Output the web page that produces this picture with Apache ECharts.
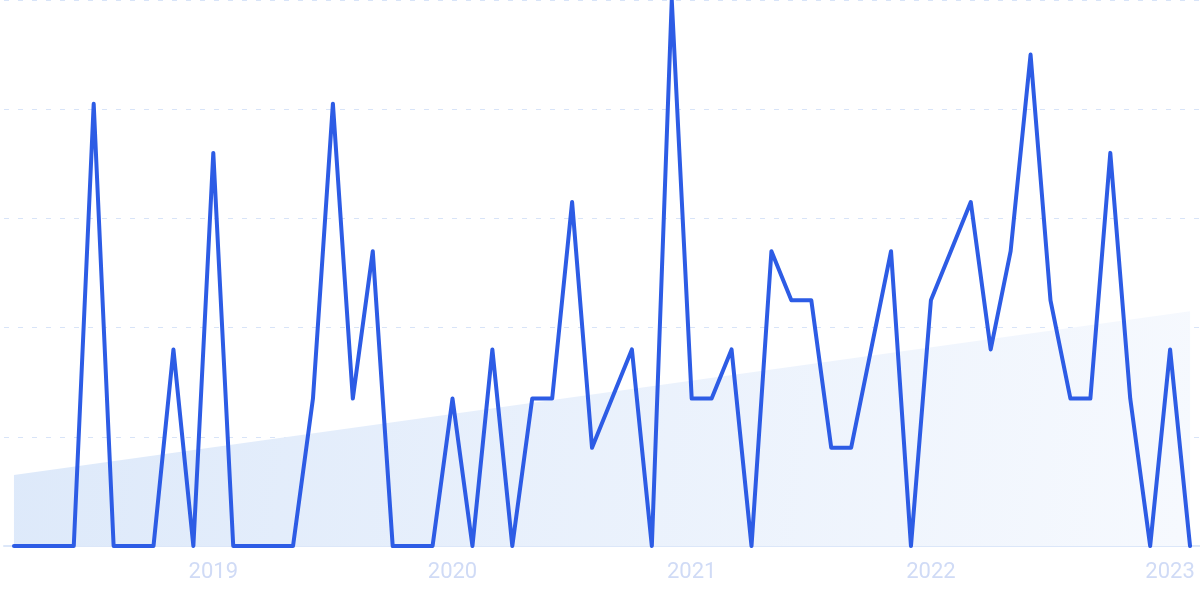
<!DOCTYPE html>
<html>
<head>
<meta charset="utf-8">
<style>
  html, body { margin: 0; padding: 0; background: #ffffff; }
  #chart { width: 1200px; height: 599px; }
</style>
<script src="https://cdn.jsdelivr.net/npm/echarts@6/dist/echarts.min.js"></script>
</head>
<body>
<div id="chart"></div>
<script>
// Months: March 2018 .. February 2023
const months = [
  '2018-03','2018-04','2018-05','2018-06','2018-07','2018-08','2018-09','2018-10','2018-11','2018-12',
  '2019-01','2019-02','2019-03','2019-04','2019-05','2019-06','2019-07','2019-08','2019-09','2019-10','2019-11','2019-12',
  '2020-01','2020-02','2020-03','2020-04','2020-05','2020-06','2020-07','2020-08','2020-09','2020-10','2020-11','2020-12',
  '2021-01','2021-02','2021-03','2021-04','2021-05','2021-06','2021-07','2021-08','2021-09','2021-10','2021-11','2021-12',
  '2022-01','2022-02','2022-03','2022-04','2022-05','2022-06','2022-07','2022-08','2022-09','2022-10','2022-11','2022-12',
  '2023-01','2023-02'
];

// Relative interest (0-100)
const interest = [
  0, 0, 0, 0, 81, 0, 0, 0, 36, 0,
  72, 0, 0, 0, 0, 27, 81, 27, 54, 0, 0, 0,
  27, 0, 36, 0, 27, 27, 63, 18, 27, 36, 0, 100,
  27, 27, 36, 0, 54, 45, 45, 18, 18, 36, 54, 0,
  45, 54, 63, 36, 54, 90, 45, 27, 27, 72, 27, 0,
  36, 0
];

// Trend line: value at first and last month
const trendEnds = [13, 43];

// y-axis scale (hidden labels)
const yMin = 0, yMax = 100, yStep = 20;

const trend = months.map((m, i) =>
  i === 0 ? trendEnds[0] : (i === months.length - 1 ? trendEnds[1] : null));

const chart = echarts.init(document.getElementById('chart'), null, { renderer: 'canvas' });
chart.setOption({
  animation: false,
  backgroundColor: '#ffffff',
  grid: { left: 4, right: 0, top: 0, bottom: 53, containLabel: false },
  xAxis: {
    type: 'category',
    data: months,
    boundaryGap: true,
    axisLine: { show: true, lineStyle: { color: '#dce7f9', width: 2 } },
    axisTick: { show: false },
    splitLine: { show: false },
    axisLabel: {
      interval: (idx, val) => val.endsWith('-01'),
      formatter: (val) => val.slice(0, 4),
      color: '#d0dbf6',
      fontFamily: 'Roboto',
      fontSize: 22,
      margin: 15
    }
  },
  yAxis: {
    type: 'value',
    min: yMin, max: yMax, interval: yStep,
    axisLine: { show: false },
    axisTick: { show: false },
    axisLabel: { show: false },
    splitLine: { show: true, lineStyle: { color: '#d8e4f8', width: 1, type: [5, 9] } }
  },
  series: [
    {
      type: 'line',
      data: trend,
      connectNulls: true,
      showSymbol: false,
      symbol: 'none',
      lineStyle: { width: 0, opacity: 0 },
      areaStyle: {
        opacity: 1,
        color: new echarts.graphic.LinearGradient(0, 0, 1, 0.6, [
          { offset: 0, color: '#dde9fa' },
          { offset: 1, color: '#f6f9fe' }
        ])
      },
      z: 1,
      silent: true
    },
    {
      type: 'line',
      data: interest,
      showSymbol: false,
      symbol: 'none',
      lineStyle: { color: '#2d5ce5', width: 4, join: 'round', cap: 'round' },
      z: 3
    }
  ]
});
</script>
</body>
</html>
